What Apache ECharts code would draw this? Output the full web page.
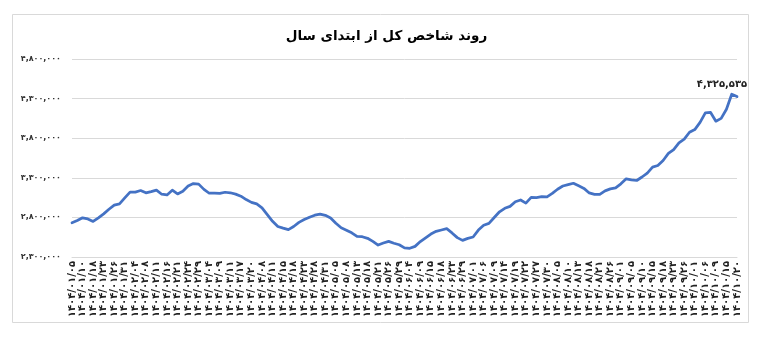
<!DOCTYPE html>
<html><head><meta charset="utf-8">
<script src="https://cdn.jsdelivr.net/npm/echarts@6/dist/echarts.min.js"></script>
<style>html,body{margin:0;padding:0;background:#fff}#c{width:773px;height:361px}</style>
</head><body><div id="c"></div>
<script>
const title = 'روند شاخص کل از ابتدای سال';
const dateLabels = ['۱۴۰۴/۰۱/۰۵','۱۴۰۴/۰۱/۱۰','۱۴۰۴/۰۱/۱۸','۱۴۰۴/۰۱/۲۳','۱۴۰۴/۰۱/۲۶','۱۴۰۴/۰۱/۳۱','۱۴۰۴/۰۲/۰۴','۱۴۰۴/۰۲/۰۸','۱۴۰۴/۰۲/۱۱','۱۴۰۴/۰۲/۱۶','۱۴۰۴/۰۲/۲۱','۱۴۰۴/۰۲/۲۴','۱۴۰۴/۰۲/۲۹','۱۴۰۴/۰۳/۰۴','۱۴۰۴/۰۳/۰۹','۱۴۰۴/۰۳/۱۱','۱۴۰۴/۰۳/۱۷','۱۴۰۴/۰۳/۲۰','۱۴۰۴/۰۴/۰۸','۱۴۰۴/۰۴/۱۱','۱۴۰۴/۰۴/۱۵','۱۴۰۴/۰۴/۱۸','۱۴۰۴/۰۴/۲۳','۱۴۰۴/۰۴/۲۸','۱۴۰۴/۰۴/۳۱','۱۴۰۴/۰۵/۰۵','۱۴۰۴/۰۵/۰۸','۱۴۰۴/۰۵/۱۳','۱۴۰۴/۰۵/۱۸','۱۴۰۴/۰۵/۲۱','۱۴۰۴/۰۵/۲۶','۱۴۰۴/۰۵/۲۹','۱۴۰۴/۰۶/۰۴','۱۴۰۴/۰۶/۰۹','۱۴۰۴/۰۶/۱۵','۱۴۰۴/۰۶/۱۸','۱۴۰۴/۰۶/۲۳','۱۴۰۴/۰۶/۲۹','۱۴۰۴/۰۷/۰۱','۱۴۰۴/۰۷/۰۶','۱۴۰۴/۰۷/۰۹','۱۴۰۴/۰۷/۱۴','۱۴۰۴/۰۷/۱۹','۱۴۰۴/۰۷/۲۲','۱۴۰۴/۰۷/۲۷','۱۴۰۴/۰۷/۳۰','۱۴۰۴/۰۸/۰۵','۱۴۰۴/۰۸/۱۰','۱۴۰۴/۰۸/۱۳','۱۴۰۴/۰۸/۱۸','۱۴۰۴/۰۸/۲۱','۱۴۰۴/۰۸/۲۶','۱۴۰۴/۰۹/۰۱','۱۴۰۴/۰۹/۰۵','۱۴۰۴/۰۹/۱۰','۱۴۰۴/۰۹/۱۵','۱۴۰۴/۰۹/۱۸','۱۴۰۴/۰۹/۲۳','۱۴۰۴/۰۹/۲۶','۱۴۰۴/۱۰/۰۱','۱۴۰۴/۱۰/۰۶','۱۴۰۴/۱۰/۰۹','۱۴۰۴/۱۰/۱۵','۱۴۰۴/۱۰/۲۰'];
const indexValues = [2732500,2760000,2795000,2781000,2749000,2795000,2845000,2902500,2955000,2971000,
3046000,3120000,3120000,3139000,3110000,3125000,3144000,3092500,3084000,3144000,
3096000,3130000,3196000,3227500,3220000,3154000,3105000,3105000,3102500,3117500,
3111000,3094000,3067500,3025000,2990000,2970000,2921000,2835000,2751000,2685000,
2664000,2645000,2685000,2737500,2772500,2801000,2827500,2841000,2826000,2792500,
2726000,2669000,2639000,2605000,2561000,2556000,2536000,2497500,2451000,2476000,
2497500,2474000,2455000,2416000,2410000,2434000,2495000,2542500,2590000,2624000,
2641000,2657500,2604000,2545000,2510000,2535000,2552500,2640000,2701000,2724000,
2799000,2871000,2915000,2939000,2997500,3020000,2981000,3052500,3051000,3061000,
3060000,3102500,3156000,3196000,3214000,3231000,3199000,3166000,3109000,3091000,
3091000,3135000,3160000,3172500,3224000,3287500,3275000,3266000,3310000,3360000,
3435000,3456000,3519000,3607500,3656000,3741000,3787500,3875000,3909000,3999000,
4120000,4125000,4015000,4050000,4166000,4355000,4325535];
const yMin = 2300000, yMax = 4800000, yStep = 500000;

const faDigits = '۰۱۲۳۴۵۶۷۸۹';
function fa(n){ return Math.round(n).toLocaleString('en-US').replace(/[0-9]/g, d => faDigits[+d]); }
const categories = indexValues.map((v,i) => i % 2 === 0 ? dateLabels[i/2] : '');
const lastIdx = indexValues.length - 1;
const FONT = '"DejaVu Sans", sans-serif';

const seriesData = indexValues.map((v,i) => i === lastIdx
  ? {value:v, label:{show:true, position:'top', distance:7, fontFamily:FONT, fontSize:10, fontWeight:'bold', color:'#222', formatter:fa(v)}}
  : v);

const chart = echarts.init(document.getElementById('c'), null, {renderer:'canvas'});
chart.setOption({
  animation:false,
  backgroundColor:'#ffffff',
  graphic:[{type:'rect', shape:{x:12.5,y:14.5,width:736,height:308}, style:{fill:'none', stroke:'#d9d9d9', lineWidth:1}, silent:true}],
  title:{text:title, left:'center', top:24, textStyle:{fontFamily:FONT, fontSize:13.5, fontWeight:'bold', color:'#000'}},
  grid:{left:72, right:36, top:59, bottom:104, containLabel:false},
  xAxis:{type:'category', data:categories, boundaryGap:false,
    axisLine:{lineStyle:{color:'#d9d9d9', width:1}}, axisTick:{show:false},
    axisLabel:{interval:1, rotate:90, margin:4, fontFamily:FONT, fontSize:10, fontWeight:'bold', color:'#222'},
    splitLine:{show:false}},
  yAxis:{type:'value', min:yMin, max:yMax, interval:yStep,
    axisLine:{show:false}, axisTick:{show:false},
    axisLabel:{margin:11, fontFamily:FONT, fontSize:8, fontWeight:'bold', color:'#333', formatter:v => fa(v)},
    splitLine:{lineStyle:{color:'#d9d9d9', width:1}}},
  series:[{type:'line', data:seriesData, showSymbol:true, showAllSymbol:true, symbol:'circle', symbolSize:0.01,
    itemStyle:{color:'#4472C4'},
    lineStyle:{color:'#4472C4', width:2.75, join:'round', cap:'round'},
    label:{show:false},
    labelLayout:{dx:-15, hideOverlap:false}
  }]
});
</script></body></html>
